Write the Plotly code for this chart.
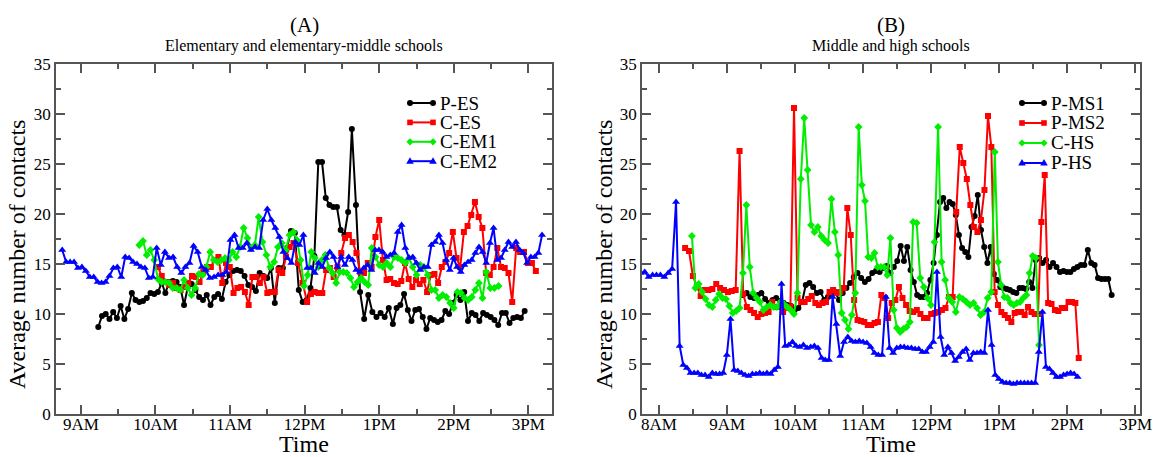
import plotly.graph_objects as go

FONT = "Liberation Serif"
W, H = 1154, 457

# Each series: values sampled every few minutes, plus clock times at a few
# reference samples (index -> "H:MM"); samples in between are evenly spaced.

# ---------------- Panel A: elementary and elementary-middle schools ----------------
p_es_at = {0: "9:14", 23: "10:23", 47: "11:36", 51: "11:49", 58: "12:11",
           67: "12:38", 77: "13:11", 86: "13:38", 112: "14:57"}
p_es = [8.7, 9.8, 10.0, 9.5, 10.2, 9.6, 10.8, 9.5, 10.5, 12.1,
        11.4, 11.2, 11.3, 11.6, 12.1, 12.0, 12.2, 13.1, 12.1, 13.2,
        13.3, 13.2, 12.7, 10.9, 12.7, 13.0, 12.4, 11.7, 11.4, 11.9,
        10.9, 11.7, 12.0, 11.5, 13.2, 13.9, 14.3, 14.4, 14.3, 13.8,
        12.9, 12.7, 12.3, 14.1, 13.8, 13.6, 14.6, 11.1, 14.6, 14.6,
        16.6, 18.3, 18.1, 12.4, 11.2, 11.4, 12.6, 15.8,
        25.2, 25.2, 21.6, 20.9, 20.7, 20.7, 18.4, 17.9, 20.2, 28.5,
        20.9, 12.2, 9.5, 11.9, 10.2, 9.7, 10.1, 9.7, 10.6, 9.0,
        10.6, 10.9, 12.0, 10.4, 9.3, 10.4, 10.5, 9.7, 8.5, 9.6,
        9.4, 9.2, 9.4, 10.3, 10.0, 11.1, 11.9, 11.4, 12.2, 9.3,
        10.1, 9.9, 9.3, 10.1, 9.9, 9.7, 9.4, 8.9, 10.1, 10.1,
        9.1, 9.6, 9.7, 9.6, 10.3]

c_es_at = {0: "10:02", 24: "11:15", 36: "11:51", 39: "12:02", 58: "13:00",
           84: "14:17", 94: "14:47", 100: "15:06"}
c_es = [14.7, 13.8, 13.2, 12.9, 13.1, 12.6, 12.4, 12.7, 13.1, 13.8,
        13.7, 13.2, 14.2, 14.7, 14.7, 15.4, 15.7, 13.1, 15.1, 14.7,
        12.1, 12.6, 12.7, 12.2, 10.9, 13.7, 13.7, 13.1, 13.7, 12.1,
        12.2, 12.2, 14.4, 14.1, 15.7, 16.7, 17.1,
        15.1, 13.1, 11.2, 12.0, 12.2, 12.1, 12.1, 14.4, 14.6, 13.7,
        14.7, 16.1, 17.6, 17.9, 17.2, 16.1, 14.2, 14.1, 15.1, 14.7,
        17.7, 19.4, 15.4, 13.4, 13.5, 13.1, 13.0, 13.3, 15.1, 13.5,
        12.7, 13.4, 13.0, 13.4, 12.2, 13.9, 14.0, 13.1, 14.7, 15.2,
        16.1, 18.2, 15.6, 14.7, 18.2, 18.8, 19.9, 21.2, 19.7, 18.6,
        14.1, 13.9, 14.7, 16.6, 14.7, 14.6, 14.1, 11.2, 16.6, 16.2,
        16.2, 15.1, 15.1, 14.3]

c_em1_at = {0: "9:47", 32: "11:23", 41: "11:51", 63: "12:54", 85: "14:00",
            94: "14:26", 97: "14:36"}
c_em1 = [16.9, 17.3, 15.9, 16.4, 15.4, 13.5, 13.2, 13.2, 13.1, 12.6,
         12.6, 12.4, 13.4, 12.6, 11.9, 12.6, 14.0, 13.9, 14.7, 16.2,
         15.4, 15.2, 15.4, 15.6, 15.4, 16.2, 15.7, 16.7, 18.6, 17.6,
         16.6, 16.9, 19.7, 17.2, 15.9, 14.7, 15.2, 16.7, 17.1, 16.4,
         17.9, 18.2, 17.4,
         15.4, 12.8, 13.9, 16.2, 15.6, 14.7, 15.4, 15.9, 14.6, 14.1,
         13.1, 14.2, 14.2, 14.1, 13.6, 12.7, 13.2, 13.6, 13.2, 12.9,
         16.6, 15.7, 14.9, 14.7, 15.1, 14.7, 15.7, 15.6, 15.4, 15.1,
         15.6, 14.7, 13.9, 14.9, 14.7, 13.9, 12.4, 12.4, 11.6, 11.9,
         11.7, 11.1, 10.6, 12.2, 12.1, 11.6, 11.4, 11.7, 12.4, 13.1,
         11.6, 14.2, 12.6, 12.6, 12.8]

c_em2_at = {0: "8:45", 24: "10:01", 51: "11:30", 60: "11:59", 86: "13:18",
            96: "13:48", 111: "14:32", 124: "15:11"}
c_em2 = [16.4, 15.2, 15.2, 15.2, 14.6, 14.7, 14.3, 13.7, 13.7, 13.2,
         13.1, 13.2, 13.8, 14.6, 14.7, 13.7, 15.7, 15.6, 15.2, 15.0,
         14.7, 14.6, 13.6, 13.7, 16.6, 14.9, 16.2, 15.6, 15.7, 14.7,
         14.1, 14.7, 15.1, 16.8, 16.2, 14.7, 14.4, 13.6, 13.7, 13.9,
         13.9, 14.2, 17.4, 17.9, 16.6, 16.6, 17.1, 16.4, 16.7, 16.6,
         19.4, 20.5, 19.4, 18.6, 17.7, 16.2, 15.6, 15.1, 17.2, 16.9,
         17.9, 14.6, 14.6, 14.1, 15.1, 14.7, 15.6, 16.2, 15.7, 14.7,
         15.7, 14.9, 15.7, 15.4, 14.4, 14.2, 14.6, 14.9, 14.4, 16.4,
         16.4, 16.2, 15.7, 15.9, 16.1, 18.2, 18.9, 16.6, 15.6, 15.7,
         15.1, 14.4, 14.7, 14.7, 16.9, 17.2, 17.9, 17.1, 15.4, 14.4,
         15.6, 14.7, 14.2, 14.9, 15.2, 15.4, 16.1, 16.7, 16.2, 15.1,
         17.1, 18.6, 15.4, 15.6, 16.4, 17.2, 16.7, 17.2, 16.4, 16.1,
         15.1, 15.7, 15.7, 16.1, 17.9]

# ---------------- Panel B: middle and high schools ----------------
p_ms1_at = {0: "9:14", 39: "11:21", 43: "11:33", 54: "12:05", 67: "12:41",
            85: "13:32", 100: "14:18", 107: "14:39"}
p_ms1 = [11.9, 12.1, 11.7, 11.6, 11.9, 12.1, 11.5, 11.1, 11.4, 11.6,
         11.3, 11.1, 10.9, 10.8, 10.4, 10.6, 11.2, 12.9, 13.1, 12.7,
         12.1, 12.2, 11.4, 11.7, 12.1, 12.2, 11.4, 12.1, 12.6, 13.1,
         13.7, 14.1, 13.6, 13.2, 13.5, 14.1, 14.3, 14.2, 14.6, 14.8,
         14.1, 14.7, 15.3, 16.8, 15.3, 16.7, 14.4, 13.2, 11.9, 11.7,
         11.7, 12.1, 13.4, 15.1, 17.9, 21.2, 21.6, 20.6, 21.2, 21.0,
         19.9, 17.9, 16.6, 16.2, 15.7, 18.7, 19.8, 21.9, 18.4, 16.7,
         15.1, 16.7, 14.0, 13.4, 12.7, 12.6, 12.5, 12.4, 12.2, 12.1,
         12.6, 12.6, 12.5, 13.2, 12.6, 15.4, 15.6, 15.1, 15.4, 14.7,
         15.1, 14.7, 14.2, 14.3, 14.2, 14.2, 14.5, 14.7, 14.9, 14.9,
         16.4, 15.1, 14.9, 13.6, 13.5, 13.5, 13.5, 11.9]

p_ms2_at = {0: "8:23", 14: "9:11", 29: "9:59", 44: "10:46", 56: "11:22",
            75: "12:22", 84: "12:50", 101: "13:40", 111: "14:10"}
p_ms2 = [16.6, 16.3, 13.8, 12.7, 11.8, 12.4, 12.4, 12.5, 13.0, 12.6,
         12.4, 12.2, 12.3, 12.4, 26.3, 12.0, 10.7, 10.4, 10.1, 9.7,
         10.0, 10.1, 10.2, 11.2, 10.7, 10.7, 10.2, 10.6, 10.7, 30.6,
         11.6, 11.2, 11.2, 11.5, 11.8, 11.1, 10.9, 11.1, 11.2, 12.2,
         12.4, 12.1, 12.2, 12.6, 20.6, 17.9, 11.4, 9.4, 9.3, 9.2,
         8.9, 8.9, 9.1, 9.2, 11.9, 11.6, 9.6, 11.1, 11.4, 12.7,
         11.6, 10.9, 10.3, 10.2, 10.4, 10.0, 9.6, 9.6, 10.0, 10.1,
         10.2, 10.4, 10.6, 11.7, 11.7, 20.2, 26.7, 25.1, 23.5, 20.9,
         18.7, 18.2, 19.4, 22.4, 29.8, 26.7, 12.2, 10.9, 10.2, 9.9,
         9.6, 9.2, 10.1, 10.2, 10.2, 9.9, 10.7, 10.2, 10.0, 10.0,
         19.2, 23.9, 11.1, 11.0, 10.4, 10.3, 10.6, 10.6, 11.2, 11.2,
         11.1, 5.6]

c_hs_at = {0: "8:29", 16: "9:17", 33: "10:08", 41: "10:32", 49: "10:56",
           59: "11:24", 66: "11:44", 73: "12:06", 89: "12:56", 103: "13:35"}
c_hs = [17.8, 12.6, 13.0, 12.2, 11.5, 10.9, 10.7, 11.4, 12.0, 11.6,
        11.5, 10.8, 10.1, 10.3, 10.6, 14.1, 20.9, 14.7, 12.1, 11.6,
        11.2, 10.4, 10.7, 10.9, 10.7, 10.7, 11.2, 11.0, 10.7, 10.4,
        10.0, 12.1, 23.5, 29.6, 24.4, 18.9, 18.2, 18.7, 17.8, 17.4,
        17.1, 21.5, 18.2, 15.9, 10.1, 9.4, 8.5, 9.9, 12.1, 28.7,
        22.9, 21.3, 15.7, 15.6, 16.1, 14.7, 14.7, 14.7,
        13.9, 17.6, 10.4, 8.6, 8.2, 8.5, 8.7, 9.2, 19.2, 19.1,
        13.6, 12.7, 11.6, 10.9, 17.2, 28.7, 15.2, 13.4, 11.6, 11.2,
        10.2, 11.7, 11.5, 11.2, 10.9, 11.1, 10.6, 9.9, 10.2, 11.6,
        12.2, 26.2, 15.2, 12.9, 11.7, 11.6, 11.1, 10.9, 11.1, 11.2,
        11.6, 11.9, 14.1, 15.8, 15.6, 6.9]

p_hs_at = {0: "7:44", 9: "8:15", 24: "9:03", 38: "9:48", 52: "10:33", 66: "11:20",
           80: "12:05", 94: "12:50", 109: "13:38", 119: "14:09"}
p_hs = [14.1, 14.2, 13.7, 13.9, 13.9, 13.9, 13.7, 14.1, 14.5, 21.2,
        6.8, 4.9, 4.6, 4.1, 4.1, 4.1, 3.9, 3.9, 3.7, 4.1,
        4.0, 4.0, 4.1, 5.9, 9.5, 4.4, 4.3, 4.1, 3.9, 3.8,
        4.0, 4.0, 4.1, 4.0, 4.1, 4.0, 4.4, 4.7, 13.0, 6.8,
        6.9, 7.2, 6.8, 6.7, 6.9, 6.6, 6.7, 6.8, 6.6, 5.6,
        5.4, 5.4, 11.7, 9.0, 5.8, 7.2, 7.7, 7.3, 7.2, 7.3,
        7.2, 7.1, 6.7, 6.1, 5.9, 5.9,
        11.7, 6.6, 6.1, 6.6, 6.7, 6.7, 6.6, 6.6, 6.5, 6.5,
        6.2, 6.2, 6.7, 7.2, 14.2, 7.7, 5.9, 6.7, 6.1, 5.3,
        5.7, 6.2, 6.5, 5.4, 6.1, 6.1, 6.2, 6.1, 10.4, 6.9,
        3.9, 3.5, 3.2, 3.1, 3.1, 3.0, 3.1, 3.1, 3.1, 3.1,
        3.1, 3.1, 6.2, 10.2, 4.7, 4.5, 4.1, 3.7, 3.7, 3.9,
        4.0, 4.1, 4.0, 3.7]

hour_ticks = [8, 9, 10, 11, 12, 13, 14, 15]
hour_labels = ["8AM", "9AM", "10AM", "11AM", "12PM", "1PM", "2PM", "3PM"]


def clock(s):
    h, m = s.split(":")
    return int(h) + int(m) / 60.0


def times(at, n):
    """Sample times in hours: known clock times at some indices, even spacing between."""
    keys = sorted(at)
    out = [0.0] * n
    for a, b in zip(keys[:-1], keys[1:]):
        ta, tb = clock(at[a]), clock(at[b])
        for i in range(a, b + 1):
            out[i] = ta + (tb - ta) * (i - a) / (b - a)
    return out


def px(x):
    return x / W


def py(y):
    return 1 - y / H


STYLES = {
    "black": dict(color="#000000", symbol="circle", size=6),
    "red": dict(color="#ff0000", symbol="square", size=6),
    "green": dict(color="#00ee00", symbol="diamond", size=6),
    "blue": dict(color="#0000ff", symbol="triangle-up", size=7),
}

fig = go.Figure()
shapes = []
annotations = []


def text(s, x, y, size, angle=0, anchor="center"):
    annotations.append(dict(text=s, x=px(x), y=py(y), xref="paper", yref="paper",
                            showarrow=False, xanchor=anchor, yanchor="middle", textangle=angle,
                            borderpad=0, font=dict(family=FONT, size=size, color="#000000")))


def key_marker(symbol, x, y, color):
    # small legend glyph placed in page pixels
    base = dict(xref="paper", yref="paper", fillcolor=color, line=dict(width=0), layer="above")
    if symbol == "circle":
        shapes.append(dict(type="circle", x0=px(x - 3), x1=px(x + 3), y0=py(y + 3), y1=py(y - 3), **base))
    elif symbol == "square":
        shapes.append(dict(type="rect", x0=px(x - 2.8), x1=px(x + 2.8), y0=py(y + 2.8), y1=py(y - 2.8), **base))
    elif symbol == "diamond":
        path = "M {},{} L {},{} L {},{} L {},{} Z".format(
            px(x), py(y - 3.6), px(x + 3.6), py(y), px(x), py(y + 3.6), px(x - 3.6), py(y))
        shapes.append(dict(type="path", path=path, **base))
    else:
        path = "M {},{} L {},{} L {},{} Z".format(
            px(x), py(y - 4), px(x + 3.8), py(y + 2.6), px(x - 3.8), py(y + 2.6))
        shapes.append(dict(type="path", path=path, **base))


def key_entry(name, style, x0, x1, y):
    st = STYLES[style]
    shapes.append(dict(type="line", xref="paper", yref="paper", x0=px(x0), x1=px(x1),
                       y0=py(y), y1=py(y), line=dict(color=st["color"], width=2), layer="above"))
    key_marker(st["symbol"], x0, y, st["color"])
    key_marker(st["symbol"], x1, y, st["color"])
    text(name, x1 + 6, y, 19, anchor="left")


def add(name, at, vals, style, xa, ya):
    st = STYLES[style]
    fig.add_trace(go.Scatter(
        x=times(at, len(vals)), y=vals, name=name, mode="lines+markers",
        line=dict(color=st["color"], width=2),
        marker=dict(color=st["color"], symbol=st["symbol"], size=st["size"], line=dict(width=0)),
        xaxis=xa, yaxis=ya, showlegend=False,
    ))


panel_a = [("P-ES", p_es_at, p_es, "black"), ("C-ES", c_es_at, c_es, "red"),
           ("C-EM1", c_em1_at, c_em1, "green"), ("C-EM2", c_em2_at, c_em2, "blue")]
panel_b = [("P-MS1", p_ms1_at, p_ms1, "black"), ("P-MS2", p_ms2_at, p_ms2, "red"),
           ("C-HS", c_hs_at, c_hs, "green"), ("P-HS", p_hs_at, p_hs, "blue")]

for i, (name, at, vals, style) in enumerate(panel_a):
    add(name, at, vals, style, "x", "y")
    key_entry(name, style, 410, 433, 103 + i * 19.4)
for i, (name, at, vals, style) in enumerate(panel_b):
    add(name, at, vals, style, "x2", "y2")
    key_entry(name, style, 1022, 1044, 103 + i * 20)

AX = "#555555"
tickfont = dict(family=FONT, size=17, color="#000000")


def xaxis(dom, rng):
    return dict(domain=dom, range=rng, tickmode="array", tickvals=hour_ticks, ticktext=hour_labels,
                ticks="inside", ticklen=9, tickwidth=1.5, tickcolor=AX, ticklabelstandoff=-6,
                minor=dict(tickmode="linear", tick0=0, dtick=0.5, ticks="inside", ticklen=5,
                           tickwidth=1.5, tickcolor=AX),
                showline=True, linecolor=AX, linewidth=1.5, mirror="allticks",
                showgrid=False, zeroline=False, tickfont=tickfont, automargin=False)


def yaxis(anchor):
    return dict(domain=[py(414), py(64)], range=[0, 35], anchor=anchor,
                tickmode="linear", tick0=0, dtick=5,
                ticks="inside", ticklen=9, tickwidth=1.5, tickcolor=AX,
                minor=dict(tickmode="linear", tick0=0, dtick=2.5, ticks="inside", ticklen=5,
                           tickwidth=1.5, tickcolor=AX),
                showline=True, linecolor=AX, linewidth=1.5, mirror="allticks",
                showgrid=False, zeroline=False, tickfont=tickfont, automargin=False)


text("(A)", 304, 25, 21)
text("Elementary and elementary-middle schools", 304, 46, 16)
text("Time", 304, 444, 24)
text("Average number of contacts", 17, 255, 24, -90)
text("(B)", 891, 25, 21)
text("Middle and high schools", 891, 46, 16)
text("Time", 891, 444, 24)
text("Average number of contacts", 604, 255, 24, -90)

fig.update_layout(
    width=W, height=H, margin=dict(l=0, r=0, t=0, b=0),
    paper_bgcolor="#ffffff", plot_bgcolor="#ffffff",
    font=dict(family=FONT, color="#000000"),
    xaxis=xaxis([px(56), px(552)], [clock("8:40"), clock("15:19")]),
    yaxis=yaxis("x"),
    xaxis2=xaxis([px(642), px(1140)], [clock("7:45"), clock("15:04")]),
    yaxis2=yaxis("x2"),
    annotations=annotations,
    shapes=shapes,
    showlegend=False,
)

fig.write_html("out.html")
